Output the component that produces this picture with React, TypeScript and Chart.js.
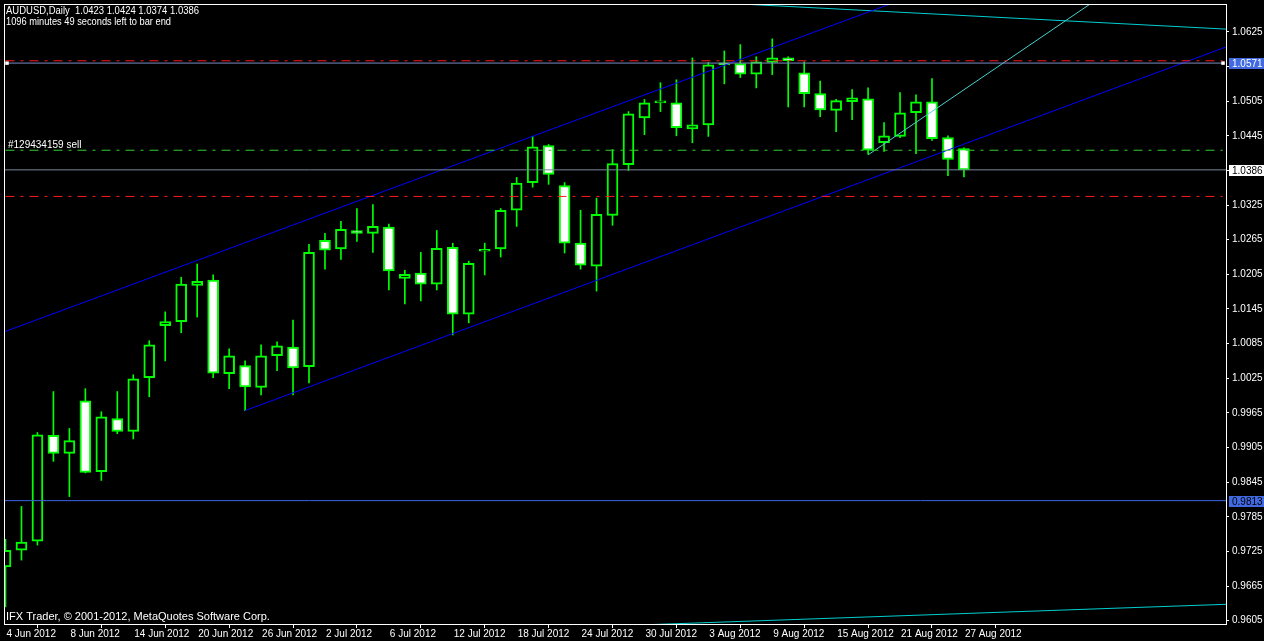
import React, { useEffect, useRef } from 'react';
import { Chart, registerables } from 'chart.js';

Chart.register(...registerables);

const symbolTitle = 'AUDUSD,Daily  1.0423 1.0424 1.0374 1.0386';
const timerText = '1096 minutes 49 seconds left to bar end';
const copyrightText = 'IFX Trader, \u00A9 2001-2012, MetaQuotes Software Corp.';
const orderLabel = '#129434159 sell';

const dates = [
  '4 Jun 2012', '5 Jun 2012', '6 Jun 2012', '7 Jun 2012', '8 Jun 2012', '11 Jun 2012', '12 Jun 2012', '13 Jun 2012', '14 Jun 2012', '15 Jun 2012',
  '18 Jun 2012', '19 Jun 2012', '20 Jun 2012', '21 Jun 2012', '22 Jun 2012', '25 Jun 2012', '26 Jun 2012', '27 Jun 2012', '28 Jun 2012', '29 Jun 2012',
  '2 Jul 2012', '3 Jul 2012', '4 Jul 2012', '5 Jul 2012', '6 Jul 2012', '9 Jul 2012', '10 Jul 2012', '11 Jul 2012', '12 Jul 2012', '13 Jul 2012',
  '16 Jul 2012', '17 Jul 2012', '18 Jul 2012', '19 Jul 2012', '20 Jul 2012', '23 Jul 2012', '24 Jul 2012', '25 Jul 2012', '26 Jul 2012', '27 Jul 2012',
  '30 Jul 2012', '31 Jul 2012', '1 Aug 2012', '2 Aug 2012', '3 Aug 2012', '6 Aug 2012', '7 Aug 2012', '8 Aug 2012', '9 Aug 2012', '10 Aug 2012',
  '13 Aug 2012', '14 Aug 2012', '15 Aug 2012', '16 Aug 2012', '17 Aug 2012', '20 Aug 2012', '21 Aug 2012', '22 Aug 2012', '23 Aug 2012', '24 Aug 2012',
  '27 Aug 2012',
];

const opens = [
  0.9698, 0.9727, 0.9743, 0.9926, 0.9895, 0.9986, 0.9863, 0.9955, 0.9933, 1.0026,
  1.0116, 1.0123, 1.0186, 1.0195, 1.0033, 1.0047, 1.0009, 1.0064, 1.0079, 1.0045,
  1.0264, 1.0249, 1.0281, 1.0276, 1.0287, 1.0198, 1.0207, 1.0188, 1.0252, 1.0136,
  1.0245, 1.0249, 1.0316, 1.0364, 1.0428, 1.0359, 1.0259, 1.0219, 1.0307, 1.0395,
  1.0476, 1.0502, 1.0502, 1.0457, 1.0464, 1.0570, 1.0570, 1.0552, 1.0572, 1.0580,
  1.0554, 1.0518, 1.0489, 1.0504, 1.0509, 1.0433, 1.0444, 1.0485, 1.0504, 1.0442,
  1.0423,
];
const highs = [
  0.9746, 0.9803, 0.9931, 1.0002, 0.9938, 1.0007, 0.9967, 1.0002, 1.0031, 1.0090,
  1.0140, 1.0200, 1.0223, 1.0204, 1.0076, 1.0055, 1.0083, 1.0088, 1.0126, 1.0257,
  1.0276, 1.0297, 1.0319, 1.0326, 1.0292, 1.0212, 1.0243, 1.0281, 1.0259, 1.0228,
  1.0259, 1.0319, 1.0373, 1.0444, 1.0430, 1.0364, 1.0316, 1.0337, 1.0421, 1.0487,
  1.0508, 1.0537, 1.0542, 1.0580, 1.0572, 1.0592, 1.0603, 1.0582, 1.0613, 1.0582,
  1.0573, 1.0540, 1.0508, 1.0525, 1.0528, 1.0468, 1.0520, 1.0516, 1.0544, 1.0445,
  1.0424,
];
const lows = [
  0.9629, 0.9710, 0.9736, 0.9881, 0.9820, 0.9861, 0.9848, 0.9929, 0.9920, 0.9993,
  1.0055, 1.0104, 1.0131, 1.0026, 1.0007, 0.9969, 0.9996, 1.0038, 0.9996, 1.0017,
  1.0214, 1.0231, 1.0262, 1.0243, 1.0178, 1.0154, 1.0159, 1.0178, 1.0100, 1.0121,
  1.0204, 1.0235, 1.0288, 1.0356, 1.0361, 1.0242, 1.0214, 1.0176, 1.0290, 1.0385,
  1.0447, 1.0487, 1.0445, 1.0433, 1.0444, 1.0535, 1.0546, 1.0528, 1.0551, 1.0495,
  1.0495, 1.0478, 1.0452, 1.0473, 1.0413, 1.0418, 1.0442, 1.0414, 1.0437, 1.0376,
  1.0374,
];
const closes = [
  0.9727, 0.9741, 0.9927, 0.9895, 0.9917, 0.9862, 0.9958, 0.9933, 1.0024, 1.0083,
  1.0123, 1.0188, 1.0193, 1.0034, 1.0064, 1.0010, 1.0064, 1.0081, 1.0043, 1.0243,
  1.0247, 1.0283, 1.0276, 1.0288, 1.0211, 1.0205, 1.0188, 1.0250, 1.0136, 1.0224,
  1.0246, 1.0316, 1.0363, 1.0426, 1.0378, 1.0259, 1.0221, 1.0309, 1.0397, 1.0483,
  1.0502, 1.0504, 1.0459, 1.0464, 1.0568, 1.0568, 1.0552, 1.0573, 1.0580, 1.0575,
  1.0518, 1.0490, 1.0506, 1.0511, 1.0420, 1.0445, 1.0485, 1.0504, 1.0440, 1.0404,
  1.0386,
];

// price levels (horizontal lines)
const stopLossLevel = 1.0575;
const userLevelHigh = 1.0571;
const orderOpenLevel = 1.0420;
const bidLevel = 1.0386;
const takeProfitLevel = 1.0340;
const userLevelLow = 0.9813;

// trend lines (bar index, price)
const upperChannel = [{ x: -1, y: 1.0096 }, { x: 57, y: 1.0690 }];
const lowerChannel = [{ x: 15, y: 0.9969 }, { x: 77, y: 1.0605 }];
const cyanRay = [{ x: 54, y: 1.0412 }, { x: 69, y: 1.0694 }];
const cyanTop = [{ x: 40, y: 1.0682 }, { x: 77, y: 1.0629 }];
const cyanBottom = [{ x: 35, y: 0.9593 }, { x: 77, y: 0.9634 }];

const xTickIndexes = [0, 4, 8, 12, 16, 20, 24, 28, 32, 36, 40, 44, 48, 52, 56, 60];
const yTickValues = [
  0.9605, 0.9665, 0.9725, 0.9785, 0.9845, 0.9905, 0.9965, 1.0025, 1.0085,
  1.0145, 1.0205, 1.0265, 1.0325, 1.0385, 1.0445, 1.0505, 1.0565, 1.0625,
];

const X_MIN = -0.09375;
const X_MAX = 76.40625;
const Y_MIN = 0.95993;
const Y_MAX = 1.067335;

const FONT = '"Liberation Sans", Arial, sans-serif';

function hLine(level: number, color: string, dash: number[], fromX = X_MIN, toX = X_MAX) {
  return {
    type: 'line' as const,
    data: [{ x: fromX, y: level }, { x: toX, y: level }],
    borderColor: color,
    borderWidth: 1,
    borderDash: dash,
    pointRadius: 0,
    clip: 0,
    order: 0,
  };
}

function trend(points: { x: number; y: number }[], color: string) {
  return {
    type: 'line' as const,
    data: points,
    borderColor: color,
    borderWidth: 1,
    pointRadius: 0,
    clip: 0,
    order: 0,
  };
}

const overlayPlugin = {
  id: 'mt4overlay',
  beforeDraw(chart: any) {
    const { ctx, width, height } = chart;
    ctx.save();
    ctx.fillStyle = '#000';
    ctx.fillRect(0, 0, width, height);
    ctx.restore();
  },
  afterDraw(chart: any) {
    const { ctx, chartArea } = chart;
    const y = chart.scales.y;
    ctx.save();
    ctx.strokeStyle = '#ffffff';
    ctx.lineWidth = 1;
    ctx.strokeRect(chartArea.left + 0.5, chartArea.top + 0.5, chartArea.right - chartArea.left, chartArea.bottom - chartArea.top);

    ctx.fillStyle = '#ffffff';
    ctx.textAlign = 'left';
    ctx.textBaseline = 'alphabetic';
    ctx.font = '10px ' + FONT;
    ctx.fillText(symbolTitle, 6, 14, 193);
    ctx.fillText(timerText, 6, 25, 165);
    ctx.fillText(orderLabel, 8, Math.round(y.getPixelForValue(orderOpenLevel)) - 2);
    ctx.font = '11px ' + FONT;
    ctx.fillText(copyrightText, 6, 620, 265);

    ctx.font = '10px ' + FONT;
    const boxes = [
      { v: userLevelHigh, bg: '#4169e1', fg: '#ffffff' },
      { v: bidLevel, bg: '#ffffff', fg: '#000000' },
      { v: userLevelLow, bg: '#4169e1', fg: '#000000' },
    ];
    ctx.textBaseline = 'middle';
    for (const b of boxes) {
      const py = Math.round(y.getPixelForValue(b.v));
      ctx.fillStyle = b.bg;
      ctx.fillRect(chartArea.right + 3, py - 5, 40, 11);
      ctx.fillStyle = b.fg;
      ctx.fillText(b.v.toFixed(4), chartArea.right + 6, py + 1);
    }
    ctx.restore();
  },
};

export default function App() {
  const ref = useRef<HTMLCanvasElement>(null);
  useEffect(() => {
    document.body.style.margin = '0';
    document.body.style.background = '#000';
    const canvas = ref.current;
    if (!canvas) return;

    const bodyData = opens.map((o, i) => ({ x: i, y: [Math.min(o, closes[i]), Math.max(o, closes[i])] }));
    const wickData = lows.map((l, i) => ({ x: i, y: [l, highs[i]] }));
    const bodyFill = opens.map((o, i) => (closes[i] > o ? '#000000' : '#ffffff'));

    const chart = new Chart(canvas, {
      type: 'bar',
      data: {
        datasets: [
          hLine(stopLossLevel, '#ff1a1a', [9, 6, 3, 6], 0, 76.2),
          {
            type: 'line',
            data: [{ x: 0.094, y: userLevelHigh }, { x: 76.22, y: userLevelHigh }],
            borderColor: '#7b8dc4',
            borderWidth: 1,
            pointRadius: 2.5,
            pointStyle: 'rect',
            pointBackgroundColor: '#ffffff',
            pointBorderColor: '#ffffff',
            pointBorderWidth: 0,
            clip: 0,
            order: 0,
          } as any,
          hLine(orderOpenLevel, '#32cd32', [9, 6, 3, 6], 0, 76.2),
          hLine(bidLevel, '#778899', []),
          hLine(takeProfitLevel, '#ff1a1a', [9, 6, 3, 6], 0, 76.2),
          hLine(userLevelLow, '#3c64e6', []),
          trend(upperChannel, '#0000ff'),
          trend(lowerChannel, '#0000ff'),
          trend(cyanRay, '#48d1cc'),
          trend(cyanTop, '#00ced1'),
          trend(cyanBottom, '#00ced1'),
          {
            type: 'bar',
            data: bodyData,
            barThickness: 11,
            borderWidth: 2,
            borderColor: '#00ff00',
            borderSkipped: false,
            backgroundColor: bodyFill,
            grouped: false,
            minBarLength: 2,
            clip: 0,
            order: 1,
          } as any,
          {
            type: 'bar',
            data: wickData,
            barThickness: 1,
            borderWidth: 0,
            backgroundColor: '#00ff00',
            grouped: false,
            clip: 0,
            order: 2,
          } as any,
        ],
      },
      options: {
        animation: false,
        responsive: false,
        devicePixelRatio: 1,
        events: [],
        layout: { padding: { left: 2, top: 2, right: 0, bottom: 0 } },
        plugins: { legend: { display: false }, tooltip: { enabled: false }, title: { display: false } },
        scales: {
          x: {
            type: 'linear',
            min: X_MIN,
            max: X_MAX,
            offset: false,
            afterBuildTicks: (s: any) => {
              s.ticks = xTickIndexes.map((v) => ({ value: v }));
            },
            afterFit: (s: any) => {
              s.height = 17;
              s.paddingLeft = 0;
              s.paddingRight = 0;
            },
            ticks: {
              autoSkip: false,
              maxRotation: 0,
              minRotation: 0,
              align: 'start',
              labelOffset: 1,
              padding: 0,
              color: '#ffffff',
              font: { size: 10, family: FONT },
              callback: (v: any) => dates[Math.round(Number(v))] ?? '',
            },
            grid: { display: true, drawOnChartArea: false, drawTicks: true, tickLength: 4, color: '#ffffff' },
            border: { display: false },
          },
          y: {
            type: 'linear',
            position: 'right',
            min: Y_MIN,
            max: Y_MAX,
            afterBuildTicks: (s: any) => {
              s.ticks = yTickValues.map((v) => ({ value: v }));
            },
            afterFit: (s: any) => {
              s.width = 38;
              s.paddingTop = 0;
              s.paddingBottom = 0;
            },
            ticks: {
              autoSkip: false,
              padding: 3,
              color: '#ffffff',
              font: { size: 10, family: FONT },
              callback: (v: any) => Number(v).toFixed(4),
            },
            grid: { display: true, drawOnChartArea: false, drawTicks: true, tickLength: 3, color: '#ffffff' },
            border: { display: false },
          },
        },
      } as any,
      plugins: [overlayPlugin],
    });
    return () => chart.destroy();
  }, []);

  return (
    <div style={{ position: 'absolute', left: 0, top: 0, width: 1264, height: 641, background: '#000' }}>
      <canvas ref={ref} width={1264} height={641} style={{ display: 'block', width: 1264, height: 641 }} />
    </div>
  );
}
